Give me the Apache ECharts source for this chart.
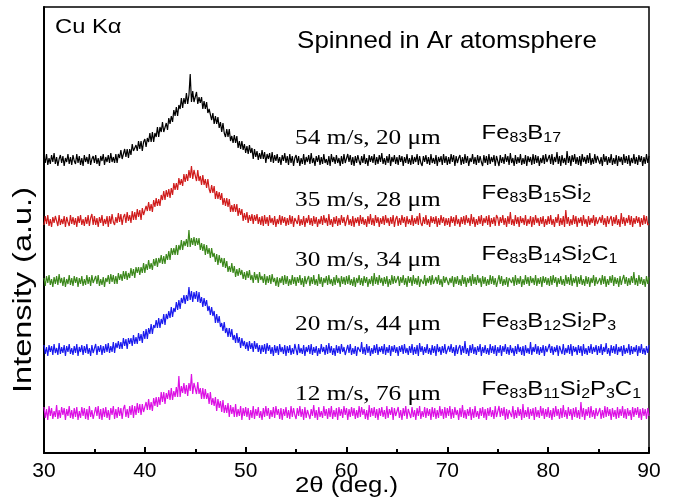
<!DOCTYPE html>
<html>
<head>
<meta charset="utf-8">
<script src="https://cdn.jsdelivr.net/npm/echarts@6/dist/echarts.min.js"></script>
<style>
  html, body { margin: 0; padding: 0; background: #fff; }
  #chart { width: 673px; height: 504px; }
</style>
</head>
<body>
<div id="chart"></div>
<script>
// XRD scan: 2θ from 30° to 90° in 0.125° steps (481 points per pattern)
const angleStart = 30;
const angleStep = 0.125;

// Vertical stacking offsets (a.u.) for each pattern
const offsets = [293, 232, 172, 103, 40];

// Intensities above each pattern's baseline (a.u.), one row per 5°
const fe83b17 = [
  4,-3,6,-5,2,-4,5,-2,7,-4,3,-6,1,5,-3,4,-6,2,-2,6,-4,3,-5,5,-1,-4,6,-3,4,-5,2,-6,5,-2,3,-4,6,-5,1,4,
  -3,5,-4,2,-6,4,-1,6,-5,3,-2,5,-3,7,-2,3,-3,6,-3,6,2,10,1,6,11,3,11,2,11,5,16,9,7,15,9,19,11,19,9,18,
  21,13,22,18,27,18,28,18,27,23,33,23,33,28,38,28,28,37,30,42,36,44,38,50,44,53,44,55,51,62,52,62,56,67,56,65,86,58,69,58,
  58,68,56,63,57,63,51,59,51,58,47,51,52,40,47,36,44,36,43,32,38,28,37,27,23,31,23,31,19,24,17,25,17,24,12,19,11,19,10,16,
  7,14,6,15,7,12,1,11,3,9,0,7,1,10,1,8,-3,6,1,7,-2,8,-3,5,-1,6,-3,3,-5,5,-1,7,-3,4,-5,6,-3,4,-6,2,
  5,-3,4,-6,2,-4,6,-5,3,-2,5,-4,7,-3,2,-6,4,-2,5,-5,3,-4,6,-3,1,-5,4,-6,6,-2,3,-4,5,-3,2,-6,4,-4,6,-3,
  -4,6,-2,5,-5,3,-6,4,-3,5,-1,-5,4,-3,6,-4,2,-6,5,-2,4,-3,6,-5,3,-4,5,-2,7,-4,2,-5,4,-3,6,-6,3,-2,5,-4,
  3,-5,5,-2,4,-6,3,-3,6,-4,2,-5,5,-4,3,-2,6,-5,4,-3,-6,4,-2,5,-4,3,-5,6,-3,2,-4,5,-6,3,-2,4,-5,6,-3,4,
  -5,3,-4,6,-2,5,-6,4,-3,2,5,-5,3,-4,6,-3,4,-6,2,-2,6,-4,3,-5,5,-3,4,-2,-6,5,-3,4,-5,6,-4,3,-2,5,-6,4,
  4,-6,5,-3,3,-4,6,-2,4,-5,7,-3,2,-6,5,-4,3,-3,6,-5,2,-4,5,-6,4,-2,3,-5,6,-4,5,-3,4,-6,2,-3,5,-4,6,-2,
  -3,5,-4,6,-5,3,-2,8,-4,4,-6,5,-3,2,-5,9,-3,4,-6,5,-2,6,-4,3,-5,4,-6,6,-2,3,-4,5,-3,7,-5,2,-4,6,-3,4,
  5,-4,3,-6,6,-2,4,-5,3,-3,6,-5,2,-4,5,-6,4,-2,3,-5,6,-3,4,-4,5,-6,2,-3,6,-4,3,-5,5,-2,4,-6,3,-4,6,-3,
  4
];
const fe83b15si2 = [
  -4,5,-3,6,-5,2,-6,4,-2,5,3,-5,6,-4,2,-3,5,-6,4,-1,-5,6,-3,4,-4,3,-6,5,-2,6,-4,2,-5,4,-3,6,-5,3,7,-4,
  5,-4,3,-6,4,-2,6,-5,2,-3,5,-6,5,-3,7,-1,-4,4,-2,8,-1,7,-4,4,7,-2,9,0,6,-2,10,1,9,1,12,4,11,1,13,6,
  5,15,10,19,10,17,9,21,14,23,15,22,15,26,21,30,21,31,24,32,23,33,26,38,31,38,31,43,36,42,35,47,39,47,40,51,43,55,42,51,
  49,40,51,40,45,36,46,36,42,33,42,32,28,36,28,35,22,30,22,29,21,28,16,23,15,23,14,22,9,16,9,17,9,17,5,13,6,12,0,8,
  1,9,-2,6,0,7,-3,6,0,7,-3,4,-4,5,-5,6,-3,4,-5,6,-2,3,-4,5,-6,2,-3,6,-4,5,-2,4,-5,3,-4,6,-3,5,-6,3,
  4,-3,6,-5,2,-4,5,-6,3,-2,6,-4,3,-5,5,-3,4,-6,2,-3,5,-4,6,-2,3,-5,7,-4,2,-6,4,-3,5,-5,3,-4,6,-2,4,-5,
  -3,6,-4,2,-5,5,-6,3,-2,4,-5,6,-3,4,-4,2,-6,5,-3,7,-4,3,-5,6,-2,4,-6,3,-3,5,-4,6,-2,3,-5,4,-3,6,-6,2,
  5,-5,3,-4,6,-2,4,-6,5,-3,2,-4,6,-5,3,-3,5,-4,8,-2,-5,4,-3,6,-4,2,-6,5,-2,4,-3,5,-6,3,-4,6,-2,4,-5,3,
  -4,3,-6,5,-2,4,-5,6,-3,2,-6,4,-3,5,-4,6,-2,3,-5,7,-3,4,-6,2,-4,5,-3,6,-5,3,-2,5,-4,6,-6,3,-3,4,-5,6,
  3,-5,4,-2,6,-4,3,-6,5,-3,9,-4,2,-5,6,-3,4,-6,5,-2,3,-4,6,-5,2,-3,5,-6,4,-4,6,-2,3,-5,4,-3,5,-6,2,-4,
  5,-3,6,-4,2,-6,4,-2,7,-5,3,-4,5,-6,11,-3,4,-5,2,-4,6,-3,5,-6,3,-2,4,-5,6,-3,2,-6,5,-4,3,-2,6,-5,4,-3,
  -5,4,-2,6,-4,3,-6,5,-3,2,5,-5,4,-3,6,-4,2,-6,8,-3,4,-5,3,-2,6,-4,5,-6,3,-3,5,-2,4,-6,3,-4,6,-3,5,-4,
  -3
];
const fe83b14si2c1 = [
  3,-5,5,-2,6,-4,2,-6,4,-3,5,-4,7,-2,3,-5,4,-6,2,-3,6,-4,3,-5,5,-2,4,-6,3,-3,5,-5,2,-4,6,-3,4,-5,6,-2,
  -4,5,-3,6,-5,2,-4,4,-6,3,-1,6,-3,7,-1,6,-3,5,-3,8,1,7,0,10,2,10,1,8,3,13,5,12,3,14,8,14,6,14,8,18,
  8,17,11,21,12,18,11,22,15,23,14,23,18,26,17,25,17,27,21,30,21,33,26,33,26,36,26,36,31,41,31,40,35,42,34,51,34,43,36,44,
  35,43,36,43,31,38,30,37,26,36,27,33,23,33,24,28,19,27,16,26,18,23,14,23,13,20,9,15,9,18,8,15,4,12,5,13,6,11,2,9,
  1,10,3,11,1,6,-2,9,1,7,-2,9,1,5,-2,7,-4,5,-2,6,-3,7,-1,3,-5,4,-6,3,-2,5,-4,6,-3,5,-5,2,-4,6,-3,4,
  -5,4,-2,6,-4,3,-6,5,-3,2,5,-5,4,-3,6,-4,2,-5,7,-3,4,-6,3,-2,5,-4,6,-3,2,-5,4,-4,6,-2,3,-6,5,-3,4,-4,
  5,-3,6,-4,2,-5,4,-6,3,-2,6,-4,3,-5,5,-2,4,-6,2,-3,5,-5,8,-3,4,-4,6,-2,3,-5,4,-3,5,-6,2,-4,6,-3,5,-2,
  -3,5,-5,4,-2,6,-4,3,-6,5,-2,4,-5,6,-3,3,-4,5,-6,2,4,-3,6,-5,3,-2,5,-4,6,-3,-5,4,-3,6,-4,2,-6,5,-2,4,
  6,-4,3,-2,5,-6,4,-3,5,-4,2,-5,6,-3,4,-6,3,-2,5,-5,7,-3,4,-4,6,-2,3,-6,5,-3,4,-5,2,-4,6,-3,5,-4,3,-6,
  -4,6,-3,5,-5,2,-4,4,-6,3,5,-2,4,-5,6,-4,3,-3,5,-6,2,-4,6,-3,4,-5,5,-2,3,-4,6,-5,3,-3,4,-6,5,-2,4,-4,
  3,-5,5,-4,6,-2,4,-6,3,-3,5,-4,2,-5,6,-3,4,-4,7,-5,3,-2,5,-6,4,-3,6,-4,2,-5,5,-3,4,-6,3,-2,6,-5,4,-3,
  -5,3,-4,6,-3,5,-6,2,-4,5,-2,6,-5,4,-3,3,-6,5,-4,2,6,-3,4,-5,3,-4,5,-2,9,-4,3,-5,6,-3,4,-4,2,-6,5,-3,
  4
];
const fe83b12si2p3 = [
  5,-4,3,-6,5,-2,4,-5,6,-3,2,-5,7,-4,3,-3,5,-6,4,-2,6,-4,2,-5,4,-3,6,-6,3,-2,5,-5,4,-3,6,-4,2,-6,5,-3,
  -3,6,-5,4,-2,5,-5,4,-3,6,-2,7,-3,4,-2,8,-3,7,2,9,1,8,1,12,4,11,1,12,6,12,4,15,6,13,6,17,9,16,7,19,
  11,21,11,22,16,26,16,25,22,30,22,32,22,31,26,36,25,36,31,39,32,43,33,42,38,48,40,50,41,52,47,55,46,55,49,63,50,59,48,58,
  51,59,48,58,47,53,43,52,44,50,39,44,35,43,34,39,27,36,27,34,23,27,19,28,17,22,13,22,13,21,10,15,7,17,7,13,2,12,4,9,
  1,8,-1,9,1,7,-2,9,1,7,-2,5,-4,5,-2,6,-4,7,-1,5,-4,3,-6,5,-3,4,-5,6,-2,3,-4,5,-6,4,-3,5,-5,2,-4,6,
  4,-5,6,-3,2,-4,5,-6,3,-2,5,-4,6,-5,3,-3,4,-6,2,-4,6,-2,3,-5,5,-4,7,-3,4,-5,2,-6,5,-3,4,-4,6,-2,3,-5,
  -4,5,-3,6,-5,2,-4,4,-6,3,5,-2,8,-4,3,-5,6,-3,4,-6,2,-4,5,-3,6,-5,3,-2,4,-4,6,-5,3,-3,5,-6,4,-2,5,-3,
  3,-6,4,-2,5,-4,6,-3,2,-5,4,-3,6,-5,3,-4,5,-6,7,-2,4,-5,3,-3,6,-4,2,-5,5,-3,4,-6,6,-2,3,-5,4,-3,6,-4,
  -5,4,-2,6,-3,3,-6,5,-4,2,5,-5,4,-3,9,-4,2,-6,5,-3,6,-4,3,-5,4,-2,6,-6,3,-3,5,-4,2,-5,6,-3,4,-4,5,-6,
  3,-3,5,-6,4,-2,6,-4,3,-5,5,-3,2,-6,4,-4,6,-2,3,-5,4,-6,5,-3,2,-4,8,-5,3,-2,6,-4,4,-5,3,-3,5,-6,4,-2,
  -4,6,-3,4,-5,3,-2,5,-6,4,3,-4,6,-5,2,-3,5,-4,6,-6,4,-2,3,-5,5,-3,4,-6,6,-4,2,-5,4,-3,6,-4,3,-2,5,-5,
  4,-3,6,-5,3,-2,7,-4,2,-6,5,-3,4,-4,6,-5,3,-2,4,-6,5,-4,2,-3,6,-5,4,-4,3,-2,5,-6,4,-3,6,-4,2,-5,4,-3,
  5
];
const fe83b11si2p3c1 = [
  6,-5,4,-7,7,-3,5,-6,2,-4,8,-6,3,-5,6,-2,5,-7,4,-3,7,-5,3,-6,5,-4,6,-7,2,-5,6,-3,5,-6,4,-7,7,-4,3,-6,
  -5,6,-3,7,-6,4,-7,5,-4,6,-5,3,-7,5,-2,7,-6,4,-5,6,-3,5,-6,4,8,-4,4,-5,7,-2,8,-5,7,-2,10,0,9,-2,9,1,
  0,11,3,14,3,11,2,15,7,16,6,16,8,21,11,21,9,20,14,23,13,25,13,22,16,26,16,37,16,27,20,30,19,28,17,30,22,39,19,30,
  30,19,31,19,25,14,25,14,24,14,20,9,21,8,15,7,16,2,14,5,12,1,13,0,8,0,10,-4,8,-1,6,-4,9,-4,4,-3,7,-7,5,-3,
  6,-4,5,-7,3,-5,7,-6,4,-3,6,-5,2,-7,5,-4,7,-3,5,-6,3,-4,6,-5,7,-2,4,-6,5,-7,4,-3,6,-5,3,-6,7,-4,5,-2,
  -6,5,-3,7,-4,4,-7,6,-5,3,5,-6,4,-3,8,-5,3,-7,6,-4,2,-5,7,-3,4,-6,5,-4,7,-6,3,-4,5,-7,6,-3,4,-5,7,-2,
  5,-7,4,-4,6,-3,5,-6,3,-5,7,-4,6,-2,4,-6,3,-7,8,-4,5,-3,6,-5,4,-7,5,-3,6,-4,3,-6,7,-5,4,-2,6,-7,5,-3,
  -4,6,-5,3,-7,5,-3,7,-6,4,4,-5,6,-4,3,-7,5,-3,7,-6,2,-4,6,-5,5,-3,4,-7,6,-4,5,-6,3,-5,7,-3,4,-6,6,-5,
  5,-3,7,-6,4,-5,6,-2,3,-7,5,-4,8,-5,3,-6,4,-3,6,-7,4,-5,7,-4,2,-6,5,-3,6,-5,4,-7,5,-3,6,-4,3,-6,7,-4,
  -5,7,-4,5,-3,6,-7,4,-6,3,5,-4,7,-6,3,-5,6,-3,4,-7,9,-5,3,-4,6,-6,4,-3,5,-7,6,-4,3,-5,7,-3,5,-6,4,-4,
  6,-5,3,-7,5,-4,7,-3,4,-6,5,-5,8,-4,3,-6,6,-3,4,-7,5,-4,6,-5,3,-6,11,-4,5,-7,4,-3,6,-5,7,-4,3,-6,5,-3,
  -4,5,-6,3,-5,7,-4,6,-3,4,-7,5,-4,3,-6,6,-5,4,-3,7,-5,4,-6,5,-3,3,-7,6,-4,5,-2,6,-5,4,-7,5,-3,4,-6,5,
  -3
];

const patterns = [fe83b17, fe83b15si2, fe83b14si2c1, fe83b12si2p3, fe83b11si2p3c1];
const patternNames = ['Fe83B17', 'Fe83B15Si2', 'Fe83B14Si2C1', 'Fe83B12Si2P3', 'Fe83B11Si2P3C1'];
const patternColors = ['#000000', '#d01c1c', '#3c881c', '#1a1aee', '#dc10e4'];

// Annotation text: wheel speed / ribbon thickness, and composition (subscripts via rich text)
const processLabels = ['54 m/s, 20 μm', '35 m/s, 28 μm', '30 m/s, 34 μm', '20 m/s, 44 μm', '12 m/s, 76 μm'];
const formulaLabels = [
  '{n|Fe}{s|83}{n|B}{s|17}',
  '{n|Fe}{s|83}{n|B}{s|15}{n|Si}{s|2}',
  '{n|Fe}{s|83}{n|B}{s|14}{n|Si}{s|2}{n|C}{s|1}',
  '{n|Fe}{s|83}{n|B}{s|12}{n|Si}{s|2}{n|P}{s|3}',
  '{n|Fe}{s|83}{n|B}{s|11}{n|Si}{s|2}{n|P}{s|3}{n|C}{s|1}'
];
// Anchor points (2θ, a.u.) where each annotation starts (left edge, vertical middle)
const processAnchors = [[54.9, 315], [54.9, 253], [54.9, 193], [54.9, 128.5], [54.9, 58.5]];
const formulaAnchors = [[73.4, 320], [73.4, 260], [73.4, 199], [73.4, 132], [73.4, 64]];
const headerLabels = ['Cu Kα', 'Spinned in Ar atomsphere'];
const headerAnchors = [[31.1, 425.5], [55.1, 412]];

const SANS = '"Liberation Sans", Arial, sans-serif';
const SERIF = '"Liberation Serif", "Times New Roman", serif';

const lineSeries = patterns.map((vals, k) => ({
  name: patternNames[k],
  type: 'line',
  showSymbol: false,
  symbol: 'none',
  animation: false,
  silent: true,
  lineStyle: { color: patternColors[k], width: 1.2 },
  data: vals.map((v, i) => [angleStart + i * angleStep, offsets[k] + v])
}));

const chart = echarts.init(document.getElementById('chart'), null, { renderer: 'canvas' });
chart.setOption({
  animation: false,
  backgroundColor: '#fff',
  grid: { left: 44, right: 24, top: 7, bottom: 51, show: true, borderColor: '#000', borderWidth: 1.5, backgroundColor: 'transparent' },
  xAxis: {
    type: 'value', min: 30, max: 90, interval: 10,
    axisLine: { lineStyle: { color: '#000', width: 2 } },
    axisTick: { inside: true, length: 6, lineStyle: { color: '#000', width: 2 } },
    minorTick: { show: true, splitNumber: 2, length: 4, lineStyle: { color: '#000', width: 2 } },
    axisLabel: { fontFamily: SANS, fontSize: 21, color: '#000', margin: 8 },
    splitLine: { show: false }
  },
  yAxis: {
    type: 'value', min: 0, max: 446,
    axisLine: { show: true, lineStyle: { color: '#000', width: 2 } },
    axisTick: { show: false },
    axisLabel: { show: false },
    splitLine: { show: false }
  },
  series: lineSeries
});

// Text overlays, placed through the axes' own data→pixel conversion
const toPx = p => chart.convertToPixel({ gridIndex: 0 }, p);
function textEl(pos, text, font, stretch, extra) {
  return Object.assign({
    type: 'text', x: pos[0], y: pos[1], scaleX: stretch, silent: true, z: 100,
    style: Object.assign({
      text: text, font: font, fill: '#000',
      textAlign: 'left', textVerticalAlign: 'middle', align: 'left', verticalAlign: 'middle'
    }, extra && extra.style)
  }, extra && extra.el);
}
const graphics = [];
processLabels.forEach((t, k) => graphics.push(textEl(toPx(processAnchors[k]), t, '22px ' + SERIF, 1.15)));
formulaLabels.forEach((t, k) => graphics.push(textEl(toPx(formulaAnchors[k]), t, '21px ' + SANS, 1.14, {
  style: {
    rich: {
      n: { fontFamily: SANS, fontSize: 21, lineHeight: 25, fill: '#000' },
      s: { fontFamily: SANS, fontSize: 14, lineHeight: 14, verticalAlign: 'bottom', fill: '#000' }
    }
  }
})));
graphics.push(textEl(toPx(headerAnchors[0]), headerLabels[0], '21px ' + SANS, 1.13));
graphics.push(textEl(toPx(headerAnchors[1]), headerLabels[1], '24px ' + SANS, 1.08));

// Axis titles
const xMid = toPx([60, 0]);
graphics.push(textEl([xMid[0], xMid[1] + 33], '2θ (deg.)', '22px ' + SANS, 1.17,
  { style: { textAlign: 'center', align: 'center' } }));
const yMid = toPx([30, 223]);
graphics.push(textEl([yMid[0] - 20, yMid[1] + 60], 'Intensity (a.u.)', '25px ' + SANS, 1.3,
  { el: { rotation: Math.PI / 2 }, style: { textAlign: 'center', align: 'center' } }));

chart.setOption({ graphic: graphics });
</script>
</body>
</html>
